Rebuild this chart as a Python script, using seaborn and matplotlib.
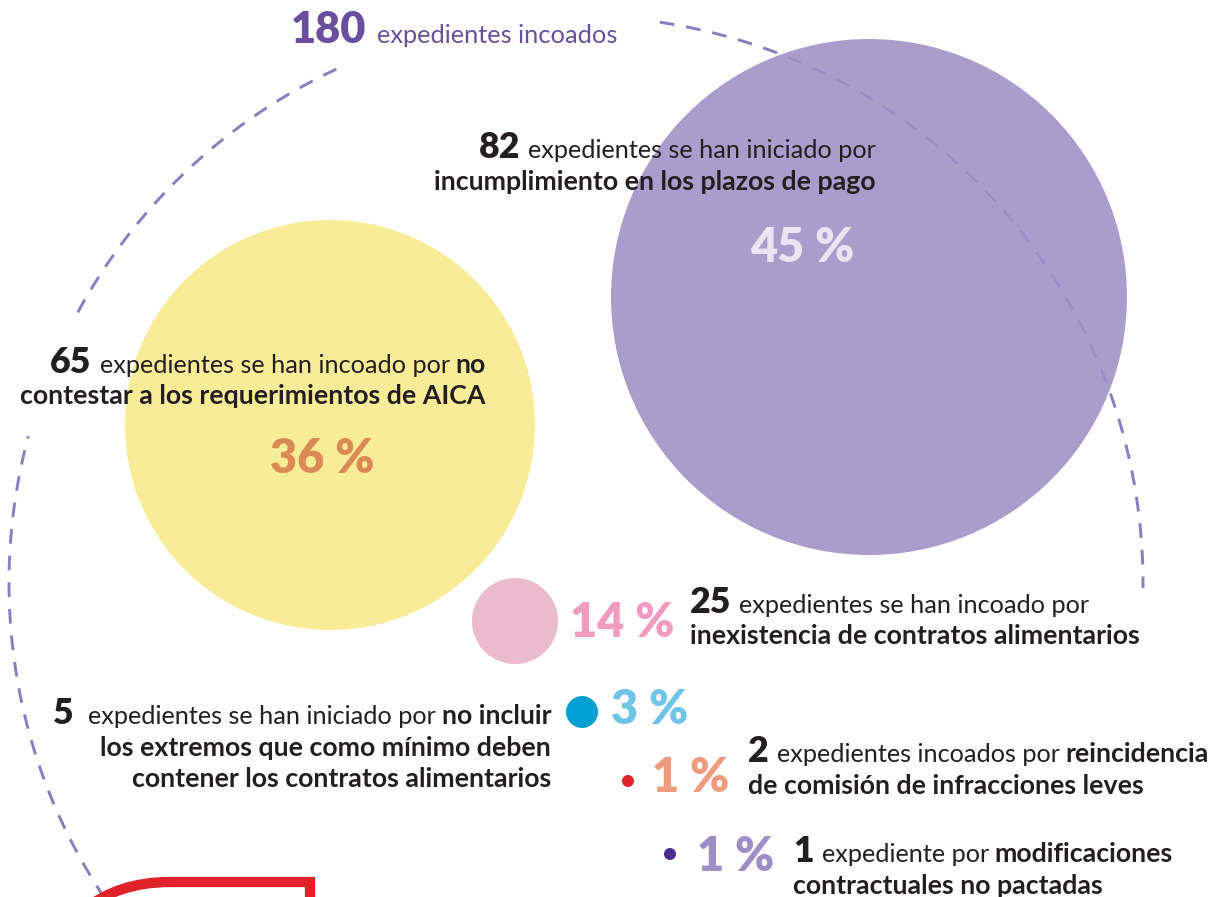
import numpy as np
import pandas as pd
import matplotlib
matplotlib.use('Agg')
import matplotlib.pyplot as plt
from matplotlib.patches import Circle, PathPatch
from matplotlib.path import Path
import seaborn as sns

# ---- data ----
total = 180
counts = [82, 65, 25, 5, 2, 1]
pcts = [45, 36, 14, 3, 1, 1]
verbs = ['expedientes se han iniciado por',
         'expedientes se han incoado por',
         'expedientes se han incoado por',
         'expedientes se han iniciado por',
         'expedientes incoados por',
         'expediente por']
# bold part of the reason that sits on the first line, then the other lines
reason_first = ['', 'no', '', 'no incluir', 'reincidencia', 'modificaciones']
reason_rest = [['incumplimiento en los plazos de pago'],
               ['contestar a los requerimientos de AICA'],
               ['inexistencia de contratos alimentarios'],
               ['los extremos que como mínimo deben', 'contener los contratos alimentarios'],
               ['de comisión de infracciones leves'],
               ['contractuales no pactadas']]

bubble_colors = ['#AA9DCB', '#F9EC98', '#EDBBCE', '#00A0D3', '#E1222B', '#4A2D8C']
pct_colors = ['#E9E5F2', '#DA8A55', '#F29BC2', '#70C4E8', '#EE9B7E', '#9F8DC6']

# ---- layout (pixels) ----
W, H = 1217, 897
bx = [869, 330, 515, 582, 628, 670]
by = [297, 425, 621, 712, 781, 854]
br = [258, 205, 43, 16, 6, 6]

block_x = [876, 486, 690, 551, 748, 793]
block_ha = ['right', 'right', 'left', 'right', 'left', 'left']
block_y0 = [158, 373, 613, 724, 762, 862]
line_step = 31.5
num_gap = [8, 8, 8, 14, 8, 8]

pct_x = [750, 270, 570, 611, 652, 697]
pct_y = [262, 473, 637, 724, 792, 871]

FONT = ['Lato', 'DejaVu Sans']
DARK = '#231F20'
TOP_PURPLE = '#6A4FA0'
ARC = '#8C7DBF'

sns.set_theme(style='white')
plt.rcParams['font.family'] = FONT

fig = plt.figure(figsize=(W / 100, H / 100), dpi=100)
ax = fig.add_axes([0, 0, 1, 1])
renderer = fig.canvas.get_renderer()


def text_width(s, size, weight):
    t = ax.text(0, 0, s, fontsize=size, fontweight=weight, family=FONT)
    w = t.get_window_extent(renderer).width
    t.remove()
    return w


def draw_line(runs, x, y, ha='left', gaps=None):
    widths = [text_width(t, s, w) for t, s, w, c in runs]
    if gaps is None:
        gaps = [6] * (len(runs) - 1)
    tot = sum(widths) + sum(gaps)
    if ha == 'right':
        x0 = x - tot
    elif ha == 'center':
        x0 = x - tot / 2
    else:
        x0 = x
    for i, ((t, s, w, c), wd) in enumerate(zip(runs, widths)):
        ax.text(x0, y, t, fontsize=s, fontweight=w, color=c, family=FONT,
                ha='left', va='baseline', zorder=6)
        x0 += wd + (gaps[i] if i < len(gaps) else 0)


# sizes fitted to the widths measured on the reference
body = 10 * 444 / text_width('incumplimiento en los plazos de pago', 10, 'bold')
body_reg = 10 * 349 / text_width('expedientes se han iniciado por', 10, 'normal')
num = 10 * 41 / text_width('82', 10, 'heavy')
pct = 10 * 105 / text_width('45 %', 10, 'heavy')
top_num = 10 * 75 / text_width(str(total), 10, 'heavy')
top_txt = 10 * 242 / text_width('expedientes incoados', 10, 'normal')

# ---- dashed arc around everything ----
cx, cy, rr = 576, 583, 567
lw_arc = 2.1
dash = (0, (10.6 / lw_arc, 8.6 / lw_arc))
segs = [(-81.5, 0.5), (-151.5, -115), (-216, -165)]
for a0, a1 in segs:
    phi = np.radians(np.linspace(a0, a1, 300))
    ax.plot(cx + rr * np.cos(phi), cy + rr * np.sin(phi), color=ARC, lw=lw_arc,
            linestyle=dash, zorder=1, dash_capstyle='butt')

# ---- bubbles ----
df = pd.DataFrame({'x': bx, 'y': by, 'label': [str(c) for c in counts],
                   'size': [(2 * r * 0.72) ** 2 for r in br]})
sns.scatterplot(data=df, x='x', y='y', hue='label',
                palette=dict(zip(df['label'], bubble_colors)),
                s=df['size'].values, linewidth=0, edgecolor='none',
                legend=False, ax=ax, zorder=2)

# arc seen through the big purple bubble
clip = Circle((bx[0], by[0]), br[0], transform=ax.transData)
phi = np.radians(np.linspace(-81.5, 0.5, 300))
ln, = ax.plot(cx + rr * np.cos(phi), cy + rr * np.sin(phi), color='#9A8CC4', lw=lw_arc * 0.8,
              linestyle=(0, (10.6 / (lw_arc * 0.8), 8.6 / (lw_arc * 0.8))),
              zorder=3, dash_capstyle='butt')
ln.set_clip_path(clip)

# ---- red shape of the next box (bottom left) ----
verts = [(310, 910), (310, 882), (170, 882), (118, 882), (84, 910)]
codes = [Path.MOVETO, Path.LINETO, Path.LINETO, Path.CURVE3, Path.CURVE3]
ax.add_patch(PathPatch(Path(verts, codes), facecolor='none', edgecolor='#E0232A',
                       lw=7.4, joinstyle='miter', capstyle='butt', zorder=4))

# ---- texts ----
draw_line([(str(total), top_num, 'heavy', TOP_PURPLE),
           ('expedientes incoados', top_txt, 'normal', TOP_PURPLE)],
          291, 43, 'left', [11])

for i in range(len(counts)):
    first = [(str(counts[i]), num, 'heavy', DARK), (verbs[i], body_reg, 'normal', DARK)]
    gaps = [num_gap[i]]
    if reason_first[i]:
        first.append((reason_first[i], body, 'bold', DARK))
        gaps.append(6)
    draw_line(first, block_x[i], block_y0[i], block_ha[i], gaps)
    for j, line in enumerate(reason_rest[i]):
        draw_line([(line, body, 'bold', DARK)], block_x[i],
                  block_y0[i] + line_step * (j + 1), block_ha[i])

for i in range(len(pcts)):
    ax.text(pct_x[i], pct_y[i], f'{pcts[i]} %', fontsize=pct, fontweight='heavy',
            color=pct_colors[i], family=FONT, ha='left', va='baseline', zorder=6)

ax.set_xlim(0, W)
ax.set_ylim(H, 0)
ax.axis('off')

fig.savefig('out.png', dpi=100, facecolor='white')
